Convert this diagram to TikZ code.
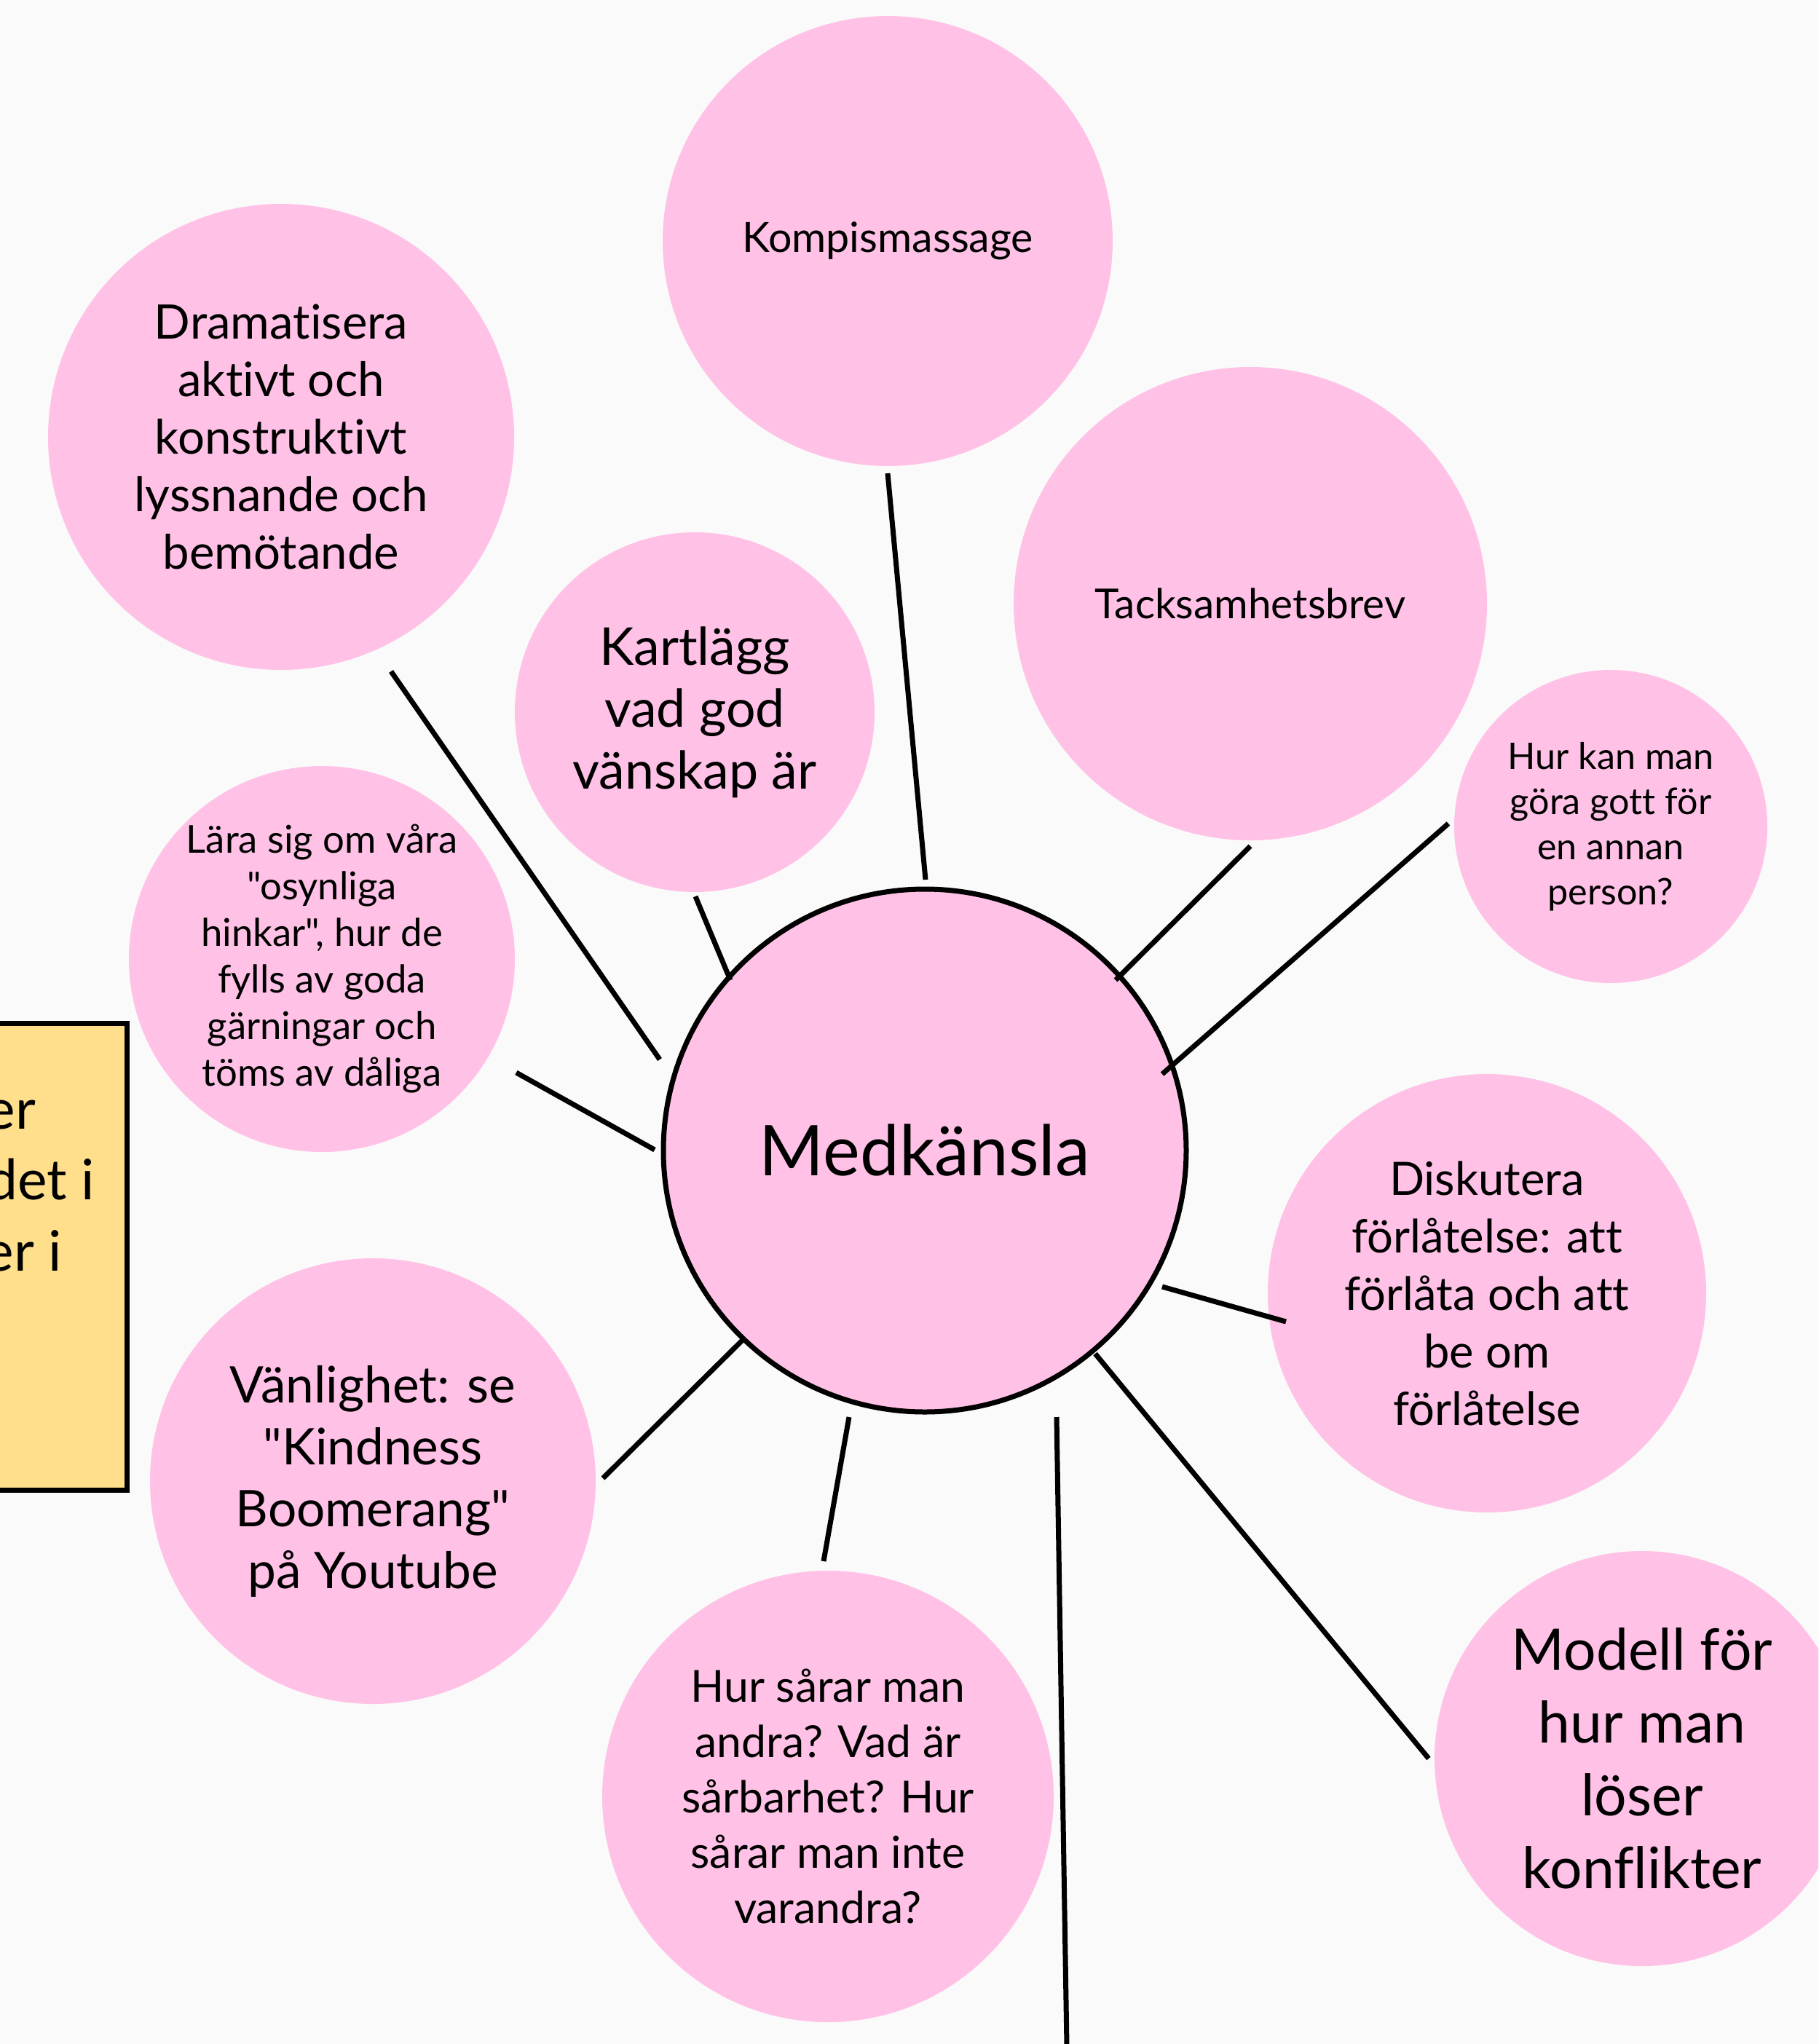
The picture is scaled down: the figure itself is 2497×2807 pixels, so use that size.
\documentclass[tikz,border=0pt]{standalone}
\usepackage{fontspec}
\setmainfont{Lato}[Ligatures={TeXOff,NoCommon}]
\definecolor{bgcol}{HTML}{FAFAFA}
\definecolor{bubblecol}{HTML}{FFC2E6}
\definecolor{notecol}{HTML}{FFDF8C}
\newcommand\fsz[2]{\fontsize{#1}{#2}\selectfont}
\begin{document}
\begin{tikzpicture}[x=0.3pt,y=-0.3pt,
  bubblestyle/.style={circle, fill=bubblecol, inner sep=0pt, align=center, text=black},
  conn/.style={line width=2.1pt, draw=black},
  notestyle/.style={fill=notecol, draw=black, line width=2.1pt},
  notetext/.style={anchor=base east, inner sep=0pt, font=\fsz{23}{29}}]
\useasboundingbox (0,0) rectangle (2497,2807);
\clip (0,0) rectangle (2497,2807);
\fill[bgcol] (0,0) rectangle (2497,2807);

% note box at left edge (its text runs off the left edge)
\draw[notestyle] (-30,1405) rectangle (174,2046);
\node[notetext] (n1) at (50,1550) {er};
\node[notetext] (n2) at (131,1647) {det i};
\node[notetext] (n3) at (86,1745) {er i};

% bubbles
\node[bubblestyle, minimum size=185.4pt, font=\fsz{17.2}{21}] (kompis) at (1219,331) {Kompismassage};
\node[bubblestyle, minimum size=192pt, font=\fsz{19.6}{23.7}] (dram) at (386,600) {Dramatisera\\aktivt och\\konstruktivt\\lyssnande och\\bemötande};
\node[bubblestyle, minimum size=195pt, font=\fsz{17}{21}] (tack) at (1717,829) {Tacksamhetsbrev};
\node[bubblestyle, minimum size=148.2pt, font=\fsz{21.5}{25.5}] (kart) at (954,978) {Kartlägg\\vad god\\vänskap är};
\node[bubblestyle, minimum size=129pt, font=\fsz{15.1}{18.6}] (hurkan) at (2212,1135) {Hur kan man\\göra gott för\\en annan\\person?};
\node[bubblestyle, minimum size=159pt, font=\fsz{15.8}{19.2}] (lara) at (442,1317) {Lära sig om våra\\"osynliga\\hinkar", hur de\\fylls av goda\\gärningar och\\töms av dåliga};
\node[bubblestyle, minimum size=215.4pt, draw=black, line width=2.1pt, font=\fsz{28.8}{34}] (med) at (1270,1580) {Medkänsla};
\node[bubblestyle, minimum size=180.6pt, font=\fsz{19}{23.7}] (disk) at (2042,1776) {Diskutera\\förlåtelse: att\\förlåta och att\\be om\\förlåtelse};
\node[bubblestyle, minimum size=183.6pt, font=\fsz{20.8}{25.5}] (van) at (512,2034) {Vänlighet: se\\"Kindness\\Boomerang"\\på Youtube};
\node[bubblestyle, minimum size=186pt, font=\fsz{18.2}{22.8}] (hursar) at (1137,2467) {Hur sårar man\\andra? Vad är\\sårbarhet? Hur\\sårar man inte\\varandra?};
\node[bubblestyle, minimum size=171pt, font=\fsz{23.6}{30}] (modell) at (2255,2415) {Modell för\\hur man\\löser\\konflikter};

% connector end points
\coordinate (a1) at (1219,650);  \coordinate (a2) at (1271,1208);
\coordinate (b1) at (537,922);   \coordinate (b2) at (906,1455);
\coordinate (c1) at (955,1231);  \coordinate (c2) at (1003,1346);
\coordinate (d1) at (1717,1162); \coordinate (d2) at (1532,1346);
\coordinate (e1) at (1989,1131); \coordinate (e2) at (1596,1475);
\coordinate (f1) at (709,1473);  \coordinate (f2) at (899,1579);
\coordinate (g1) at (1596,1767); \coordinate (g2) at (1766,1815);
\coordinate (h1) at (828,2030);  \coordinate (h2) at (1019,1841);
\coordinate (i1) at (1166,1946); \coordinate (i2) at (1131,2144);
\coordinate (j1) at (1451,1946); \coordinate (j2) at (1465,2810);
\coordinate (k1) at (1504,1859); \coordinate (k2) at (1962,2415);

\draw[conn] (a1) -- (a2);
\draw[conn] (b1) -- (b2);
\draw[conn] (c1) -- (c2);
\draw[conn] (d1) -- (d2);
\draw[conn] (e1) -- (e2);
\draw[conn] (f1) -- (f2);
\draw[conn] (g1) -- (g2);
\draw[conn] (h1) -- (h2);
\draw[conn] (i1) -- (i2);
\draw[conn] (j1) -- (j2);
\draw[conn] (k1) -- (k2);
\end{tikzpicture}
\end{document}
